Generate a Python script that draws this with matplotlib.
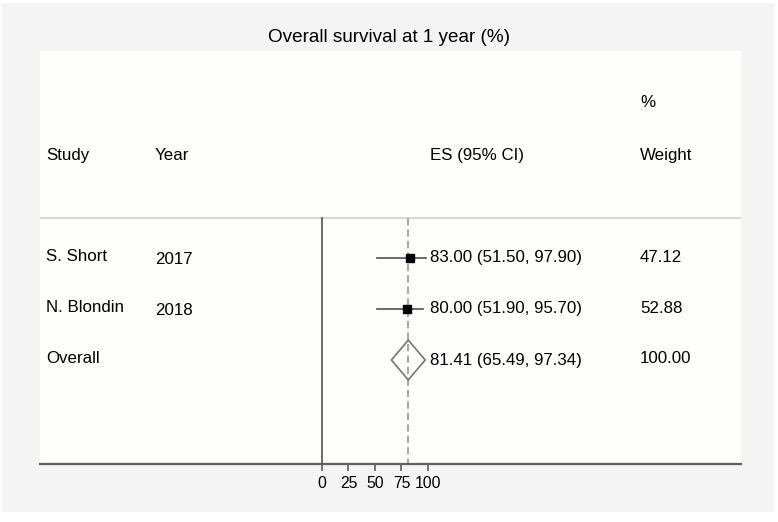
import matplotlib.pyplot as plt
import matplotlib.transforms as mtransforms
from matplotlib.patches import Rectangle, Polygon

plt.rcParams['font.family'] = ['Liberation Sans', 'DejaVu Sans']

# forest plot data
studies = ['S. Short', 'N. Blondin']
years = ['2017', '2018']
es = [83.00, 80.00]
lo = [51.50, 51.90]
hi = [97.90, 95.70]
weights = [47.12, 52.88]
overall_es = 81.41
overall_lo = 65.49
overall_hi = 97.34
xticks = [0, 25, 50, 75, 100]

W, H = 778, 522
fig = plt.figure(figsize=(W / 100, H / 100), dpi=100, facecolor='white')

# grey outer panel
fig.patches.append(Rectangle((2 / W, 10 / H), 772 / W, 509 / H, transform=fig.transFigure,
                             facecolor='#f4f4f4', edgecolor='none', zorder=0))

ax = fig.add_axes([40 / W, (H - 464) / H, 701 / W, 413 / H])
ax.set_facecolor('#fdfdf9')
ax.set_zorder(1)

# x scale: 0 -> 322 px, 100 -> 428 px
px_per_unit = 1.06
ax.set_xlim((40 - 322) / px_per_unit, (741 - 322) / px_per_unit)
# rows: 258 px + 51 px per row
ax.set_ylim((464 - 258) / 51, (51 - 258) / 51)

for s in ['top', 'right', 'left']:
    ax.spines[s].set_visible(False)
ax.spines['bottom'].set_color('#606060')
ax.spines['bottom'].set_linewidth(1.6)
ax.set_yticks([])
ax.set_xticks(xticks)
ax.set_xticklabels([str(t) for t in xticks])
ax.tick_params(axis='x', length=5, width=1.2, color='#606060', labelsize=11.3, pad=4)

sep = (218 - 258) / 51
bottom = (464 - 258) / 51
ax.axhline(sep, color='#d8d8d8', lw=1.5)
ax.plot([0, 0], [sep, bottom], color='#505050', lw=1.2, clip_on=False)
ax.plot([overall_es, overall_es], [sep, bottom], color='#a8a8a8', lw=1.5, ls=(0, (3.5, 2)), clip_on=False)

# study rows
for i in range(len(studies)):
    ax.plot([lo[i], hi[i]], [i, i], color='#505050', lw=1.2, zorder=3)
    ax.plot(es[i], i, marker='s', color='black', markersize=6 * (weights[i] / 50) ** 0.5, zorder=4)

# overall diamond
ov = len(studies)
half = 0.39
ax.add_patch(Polygon([[overall_lo, ov], [overall_es, ov - half], [overall_hi, ov], [overall_es, ov + half]],
                     closed=True, facecolor='none', edgecolor='#757575', lw=1.2, zorder=4))

# text columns
tr = mtransforms.blended_transform_factory(fig.transFigure, ax.transData)
fs = 12.2
col_study, col_year, col_es, col_w = 46 / W, 155 / W, 430 / W, 640 / W
head = (156 - 258) / 51
ax.text(col_study, head, 'Study', transform=tr, fontsize=fs, va='center')
ax.text(col_year, head, 'Year', transform=tr, fontsize=fs, va='center')
ax.text(col_es, head, 'ES (95% CI)', transform=tr, fontsize=fs, va='center')
ax.text(col_w, head, 'Weight', transform=tr, fontsize=fs, va='center')
ax.text(col_w, (103 - 258) / 51, '%', transform=tr, fontsize=fs, va='center')

for i in range(len(studies)):
    ax.text(col_study, i - 0.03, studies[i], transform=tr, fontsize=fs, va='center')
    ax.text(col_year, i + 0.03, years[i], transform=tr, fontsize=fs, va='center')
    ax.text(col_es, i, f'{es[i]:.2f} ({lo[i]:.2f}, {hi[i]:.2f})', transform=tr, fontsize=fs, va='center')
    ax.text(col_w, i, f'{weights[i]:.2f}', transform=tr, fontsize=fs, va='center')

ax.text(col_study, ov - 0.03, 'Overall', transform=tr, fontsize=fs, va='center')
ax.text(col_es, ov, f'{overall_es:.2f} ({overall_lo:.2f}, {overall_hi:.2f})', transform=tr, fontsize=fs, va='center')
ax.text(col_w, ov - 0.03, '100.00', transform=tr, fontsize=fs, va='center')

fig.text(389 / W, 1 - 37 / H, 'Overall survival at 1 year (%)', ha='center', va='center', fontsize=13.6)

fig.savefig('out.png', dpi=100, facecolor=fig.get_facecolor())
